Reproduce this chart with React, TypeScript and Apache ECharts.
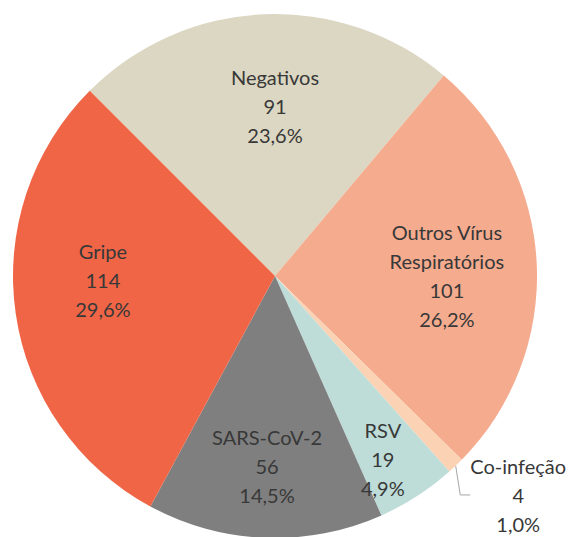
import React, { useEffect, useRef } from "react";
import * as echarts from "echarts";

const categories = ["Negativos", "Outros Vírus Respiratórios", "Co-infeção", "RSV", "SARS-CoV-2", "Gripe"];
const counts = [91, 101, 4, 19, 56, 114];
const sliceColors = ["#DCD7C2", "#F5AB8E", "#FBD3B4", "#BEDDD9", "#7F7F7F", "#EF6546"];

// label anchors (polar, degrees ccw from +x, fraction of radius)
const labelAnchors: [number, number][] = [
  [90, 0.65],
  [0.3, 0.656],
  [-42, 1.249],
  [-59.5, 0.811],
  [-92.4, 0.726],
  [-178.7, 0.657],
];

const CX = 275;
const CY = 276;
const R = 262;

export default function App() {
  const ref = useRef<HTMLDivElement>(null);
  useEffect(() => {
    if (!ref.current) return;
    const chart = echarts.init(ref.current, null, { renderer: "svg" });
    const total = counts.reduce((a, b) => a + b, 0);
    const data = categories.map((name, i) => ({
      name,
      value: counts[i],
      itemStyle: { color: sliceColors[i] },
      label: i === 2 ? { position: "outside" as const } : { position: "inside" as const },
      labelLine: i === 2 ? { show: true, length: 12, length2: 10 } : { show: false },
    }));
    chart.setOption({
      animation: false,
      backgroundColor: "#ffffff",
      series: [
        {
          type: "pie",
          center: [CX, CY],
          radius: [0, R],
          startAngle: 135,
          clockwise: true,
          avoidLabelOverlap: false,
          data,
          label: {
            show: true,
            color: "#383838",
            fontFamily: "Lato, 'Open Sans', sans-serif",
            fontSize: 20,
            lineHeight: 29,
            align: "center",
            formatter: (p: any) => {
              const pct = ((p.value / total) * 100).toFixed(1).replace(".", ",");
              const nm = String(p.name).replace("Vírus ", "Vírus\n");
              return `${nm}\n${p.value}\n${pct}%`;
            },
          },
          labelLine: {
            lineStyle: { color: "#a6a6a6", width: 1 },
          },
          labelLayout: (params: any) => {
            const [ang, f] = labelAnchors[params.dataIndex];
            const a = (ang * Math.PI) / 180;
            const x = CX + Math.cos(a) * R * f;
            const y = CY - Math.sin(a) * R * f;
            return { x, y, align: "center", verticalAlign: "middle" };
          },
        },
      ],
    });
    return () => chart.dispose();
  }, []);
  return (
    <div
      ref={ref}
      style={{ position: "absolute", left: 0, top: 0, width: 577, height: 537 }}
    />
  );
}
